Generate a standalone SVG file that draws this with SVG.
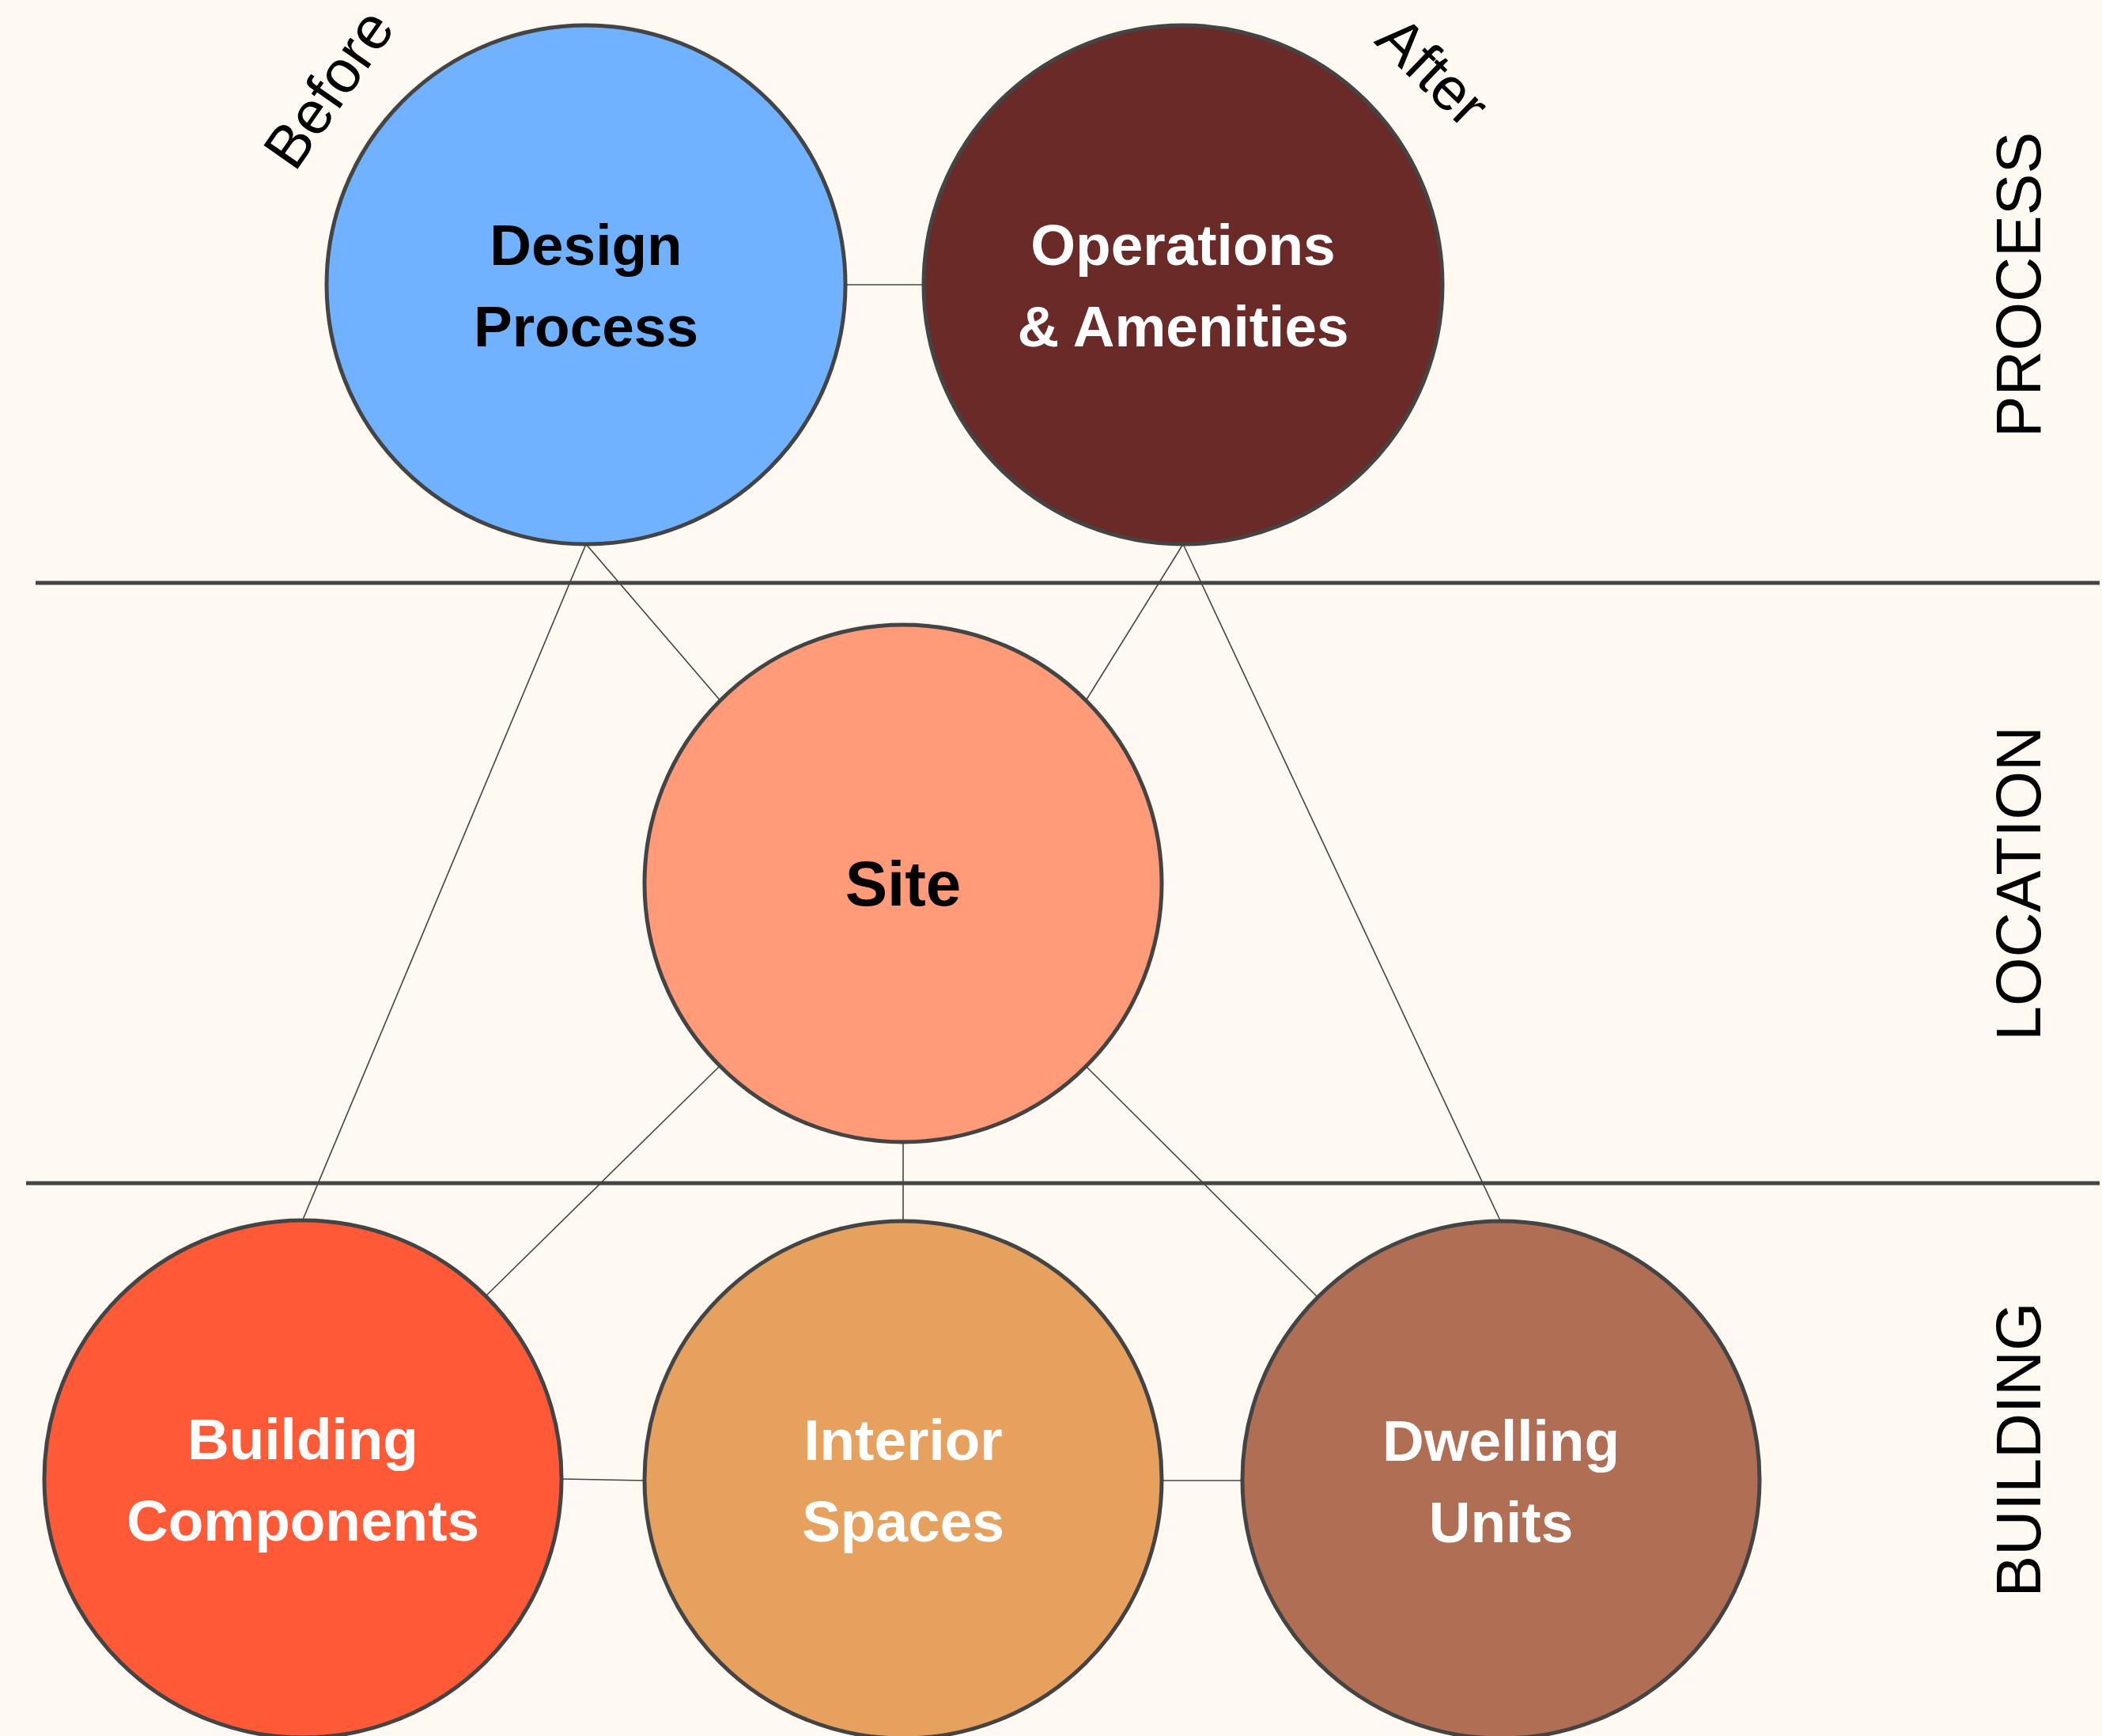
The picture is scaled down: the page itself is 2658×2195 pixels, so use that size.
<svg xmlns="http://www.w3.org/2000/svg" width="2658" height="2195" viewBox="0 0 2658 2195">
<style>
.node circle{stroke:#444;stroke-width:5}
.lbl{font-family:"Liberation Sans",Arial,Helvetica,sans-serif;font-weight:bold;font-size:73px;text-anchor:middle}
.w{fill:#fff}
.k{fill:#000}
.conn line{stroke:#444;stroke-width:1.6}
.sep{stroke:#444;stroke-width:5}
.side{font-family:"Liberation Sans",Arial,Helvetica,sans-serif;font-size:79px;fill:#000;text-anchor:middle}
.note{font-family:"Liberation Sans",Arial,Helvetica,sans-serif;font-size:76px;fill:#000;text-anchor:middle}
</style>
<rect width="2658" height="2195" fill="#FFF9F2"/>
<g id="separators">
<line class="sep" x1="45" y1="737" x2="2655" y2="737"/>
<line class="sep" x1="33" y1="1496" x2="2655" y2="1496"/>
</g>
<g id="connectors" class="conn">
<line x1="1069" y1="360" x2="1167" y2="360"/>
<line x1="741" y1="688" x2="383" y2="1542"/>
<line x1="741" y1="688" x2="911" y2="886"/>
<line x1="1496" y1="688" x2="1373" y2="886"/>
<line x1="1496" y1="688" x2="1897" y2="1543"/>
<line x1="910" y1="1348" x2="615" y2="1638"/>
<line x1="1142" y1="1444" x2="1142" y2="1544"/>
<line x1="1374" y1="1349" x2="1666" y2="1640"/>
<line x1="711" y1="1870" x2="815" y2="1872"/>
<line x1="1469" y1="1872" x2="1571" y2="1872"/>
</g>
<g id="design-process" class="node">
<circle cx="741" cy="360" r="328" fill="#70B2FF"/>
<text class="lbl k" x="741" y="335">Design</text>
<text class="lbl k" x="741" y="438">Process</text>
</g>
<g id="operations-amenities" class="node">
<circle cx="1496" cy="360" r="328" fill="#6A2B28"/>
<text class="lbl w" x="1496" y="335">Operations</text>
<text class="lbl w" x="1496" y="438">&amp; Amenities</text>
</g>
<g id="site" class="node">
<circle cx="1142" cy="1117" r="327" fill="#FF9B78"/>
<text class="lbl k" x="1142" y="1145" style="font-size:80px">Site</text>
</g>
<g id="building-components" class="node">
<circle cx="383" cy="1870" r="327" fill="#FF5A38"/>
<text class="lbl w" x="383" y="1845">Building</text>
<text class="lbl w" x="383" y="1948">Components</text>
</g>
<g id="interior-spaces" class="node">
<circle cx="1142" cy="1871" r="327" fill="#E6A15F"/>
<text class="lbl w" x="1142" y="1846">Interior</text>
<text class="lbl w" x="1142" y="1949">Spaces</text>
</g>
<g id="dwelling-units" class="node">
<circle cx="1898" cy="1871" r="327" fill="#B06E55"/>
<text class="lbl w" x="1898" y="1847">Dwelling</text>
<text class="lbl w" x="1898" y="1950">Units</text>
</g>
<g id="labels">
<text class="note" transform="translate(437,127) rotate(-55)">Before</text>
<text class="note" transform="translate(1794,109) rotate(44)">After</text>
<text class="side" transform="translate(2580,360) rotate(-90)">PROCESS</text>
<text class="side" transform="translate(2580,1117) rotate(-90)">LOCATION</text>
<text class="side" transform="translate(2580,1833) rotate(-90)">BUILDING</text>
</g>
</svg>
